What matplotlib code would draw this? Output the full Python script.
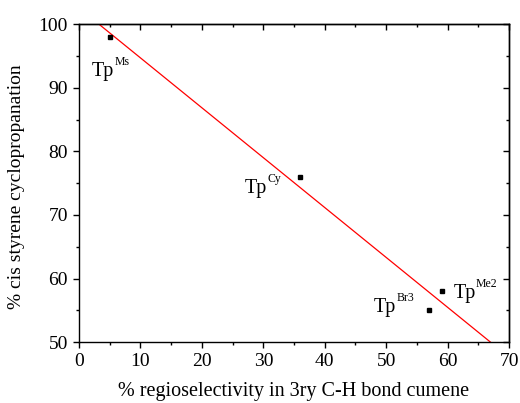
import numpy as np
import matplotlib.pyplot as plt
from matplotlib.ticker import MultipleLocator

plt.rcParams['font.family'] = ['Liberation Serif', 'DejaVu Serif']

# data
ligands = ['Ms', 'Cy', 'Br3', 'Me2']
regio = np.array([5, 36, 57, 59])
cis = np.array([98, 76, 55, 58])
label_pos = [(2.1, 91.8), (27.0, 73.4), (48.0, 54.7), (61.0, 56.9)]

fig = plt.figure(figsize=(5.2, 4.03), dpi=100)
ax = fig.add_axes([0.152, 0.151, 0.827, 0.789])

# linear fit through the four points
k, b = np.polyfit(regio, cis, 1)
xs = np.array([0, 70])
ax.plot(xs, k * xs + b, color='red', lw=0.9)

ax.plot(regio, cis, 's', color='black', ms=3.3)

for name, (tx, ty) in zip(ligands, label_pos):
    ax.text(tx, ty, 'Tp', fontsize=14.5, va='baseline')
    ax.annotate(name, xy=(tx, ty), xytext=(16, 8), textcoords='offset points',
                fontsize=8.5, va='baseline')

ax.set_xlim(0, 70)
ax.set_ylim(50, 100)
for a in (ax.xaxis, ax.yaxis):
    a.set_major_locator(MultipleLocator(10))
    a.set_minor_locator(MultipleLocator(5))
ax.tick_params(which='both', direction='out', labelsize=14, width=1.0)
ax.tick_params(which='major', length=4.5)
ax.tick_params(which='minor', length=2.5)

# top/right ticks point inward
top = ax.secondary_xaxis('top')
right = ax.secondary_yaxis('right')
for sec, a in ((top, top.xaxis), (right, right.yaxis)):
    a.set_major_locator(MultipleLocator(10))
    a.set_minor_locator(MultipleLocator(5))
    sec.tick_params(which='both', direction='in', width=1.0,
                    labeltop=False, labelright=False)
    sec.tick_params(which='major', length=4)
    sec.tick_params(which='minor', length=2.5)
    for s in sec.spines.values():
        s.set_linewidth(1.0)
for s in ax.spines.values():
    s.set_linewidth(1.0)

ax.set_xlabel('% regioselectivity in 3ry C-H bond cumene', fontsize=14.5)
ax.set_ylabel('% cis styrene cyclopropanation', fontsize=14)
ax.xaxis.set_label_coords(0.5, -0.125)
ax.yaxis.set_label_coords(-0.125, 0.49)

fig.savefig('out.png', dpi=100)
